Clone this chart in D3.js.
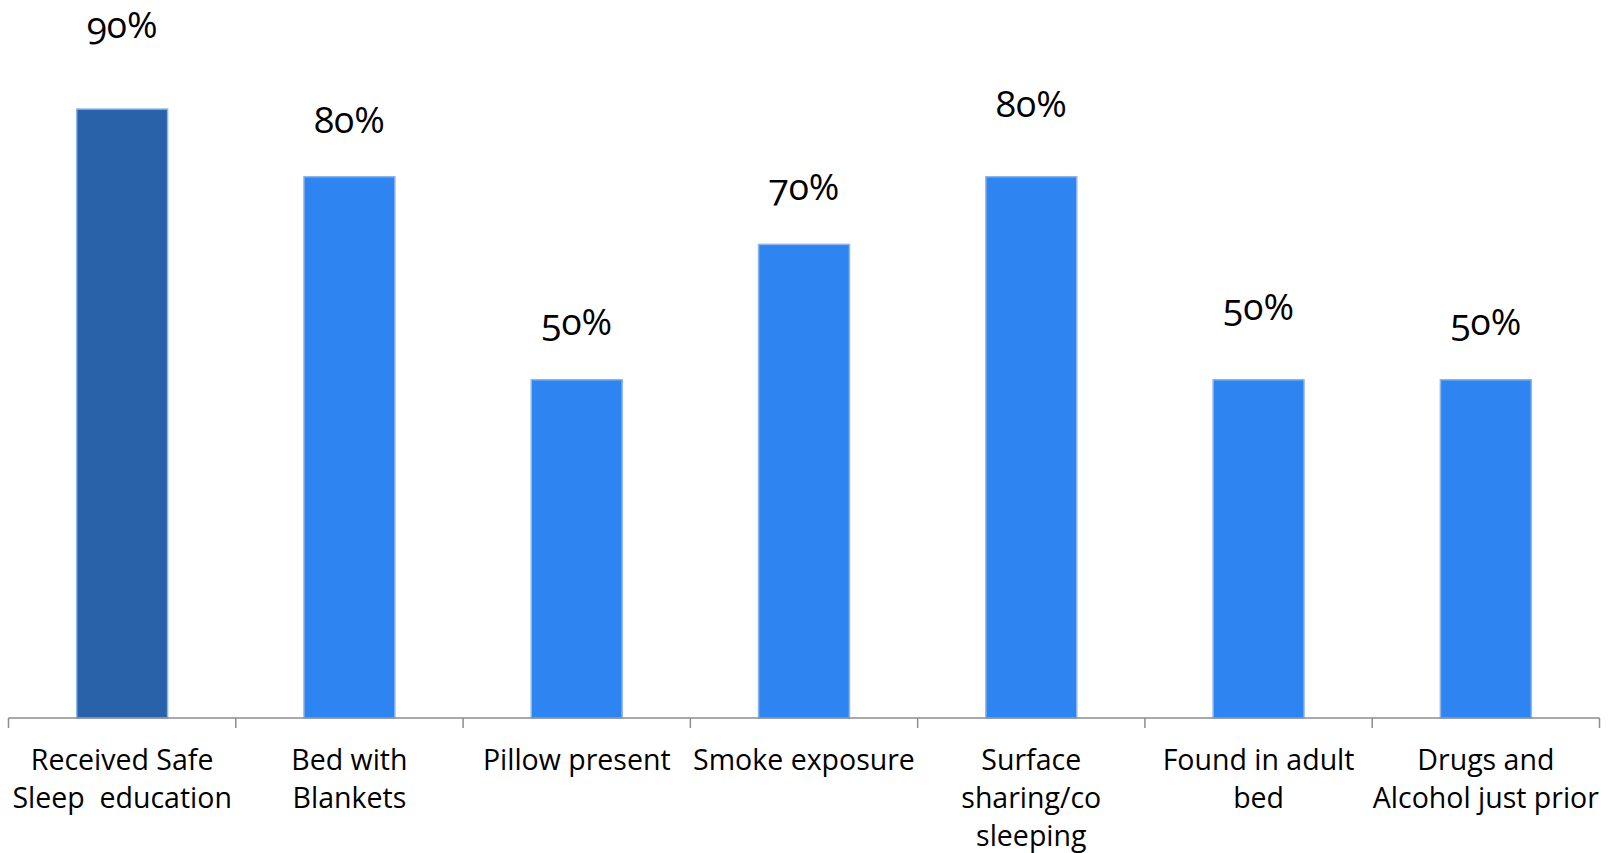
<!DOCTYPE html>
<html>
<head>
<meta charset="utf-8">
<script src="https://cdn.jsdelivr.net/npm/d3@7"></script>
<style>
  html, body { margin: 0; padding: 0; background: #ffffff; }
  svg { display: block; }
  text { font-family: "Open Sans", "Noto Sans", sans-serif; fill: #000; }
</style>
</head>
<body>
<svg id="chart" width="1617" height="853"></svg>
<script>
// Risk factors found in sleep-related infant deaths (percent of cases)
const categories = [
  ["Received Safe", "Sleep  education"],
  ["Bed with", "Blankets"],
  ["Pillow present"],
  ["Smoke exposure"],
  ["Surface", "sharing/co", "sleeping"],
  ["Found in adult", "bed"],
  ["Drugs and", "Alcohol just prior"]
];
const values = [90, 80, 50, 70, 80, 50, 50];
const valueLabels = ["90%", "80%", "50%", "70%", "80%", "50%", "50%"];

// Layout
const W = 1617, H = 853;
const left = 8.5, right = 1599.5, baseY = 718, topY = 41.4;
// distance from bar top to its value label baseline
const labelLift = [71, 44, 45, 44, 60, 60, 45];
const barColors = ["#2962a8", "#2e85f1", "#2e85f1", "#2e85f1", "#2e85f1", "#2e85f1", "#2e85f1"];

const svg = d3.select("#chart");

const x = d3.scaleBand()
  .domain(d3.range(categories.length))
  .range([left, right])
  .paddingInner(0.6)
  .paddingOuter(0.3);

const y = d3.scaleLinear().domain([0, 100]).range([baseY, topY]);

// Bars
svg.append("g").selectAll("rect")
  .data(values)
  .join("rect")
  .attr("x", (d, i) => x(i))
  .attr("y", d => y(d))
  .attr("width", x.bandwidth())
  .attr("height", d => baseY - y(d))
  .attr("fill", (d, i) => barColors[i])
  .attr("stroke", "#8db5e8")
  .attr("stroke-width", 1.5);

// Value labels
svg.append("g").selectAll("text")
  .data(values)
  .join("text")
  .attr("x", (d, i) => x(i) + x.bandwidth() / 2)
  .attr("y", (d, i) => y(d) - labelLift[i])
  .attr("text-anchor", "middle")
  .style("font-size", "37px")
  .style("font-variant-numeric", "oldstyle-nums")
  .text((d, i) => valueLabels[i]);

// Category axis: baseline with ticks on band boundaries
const axis = svg.append("g");
const step = x.step();
const boundaries = d3.range(categories.length + 1).map(i => left + i * step);
axis.append("line")
  .attr("x1", left).attr("x2", right)
  .attr("y1", baseY).attr("y2", baseY)
  .attr("stroke", "#8c8c8c").attr("stroke-width", 1.5);
axis.selectAll("line.tick")
  .data(boundaries)
  .join("line")
  .attr("class", "tick")
  .attr("x1", d => d).attr("x2", d => d)
  .attr("y1", baseY).attr("y2", baseY + 10)
  .attr("stroke", "#8c8c8c").attr("stroke-width", 1.5);

// Category labels (multi-line)
const lab = axis.selectAll("text.cat")
  .data(categories)
  .join("text")
  .attr("class", "cat")
  .attr("text-anchor", "middle")
  .style("font-size", "28.5px")
  .attr("x", (d, i) => x(i) + x.bandwidth() / 2)
  .attr("y", 770);
lab.selectAll("tspan")
  .data(d => d)
  .join("tspan")
  .attr("x", function() { return this.parentNode.getAttribute("x"); })
  .attr("dy", (d, j) => j === 0 ? 0 : 38)
  .style("white-space", "pre")
  .text(d => d);
</script>
</body>
</html>
